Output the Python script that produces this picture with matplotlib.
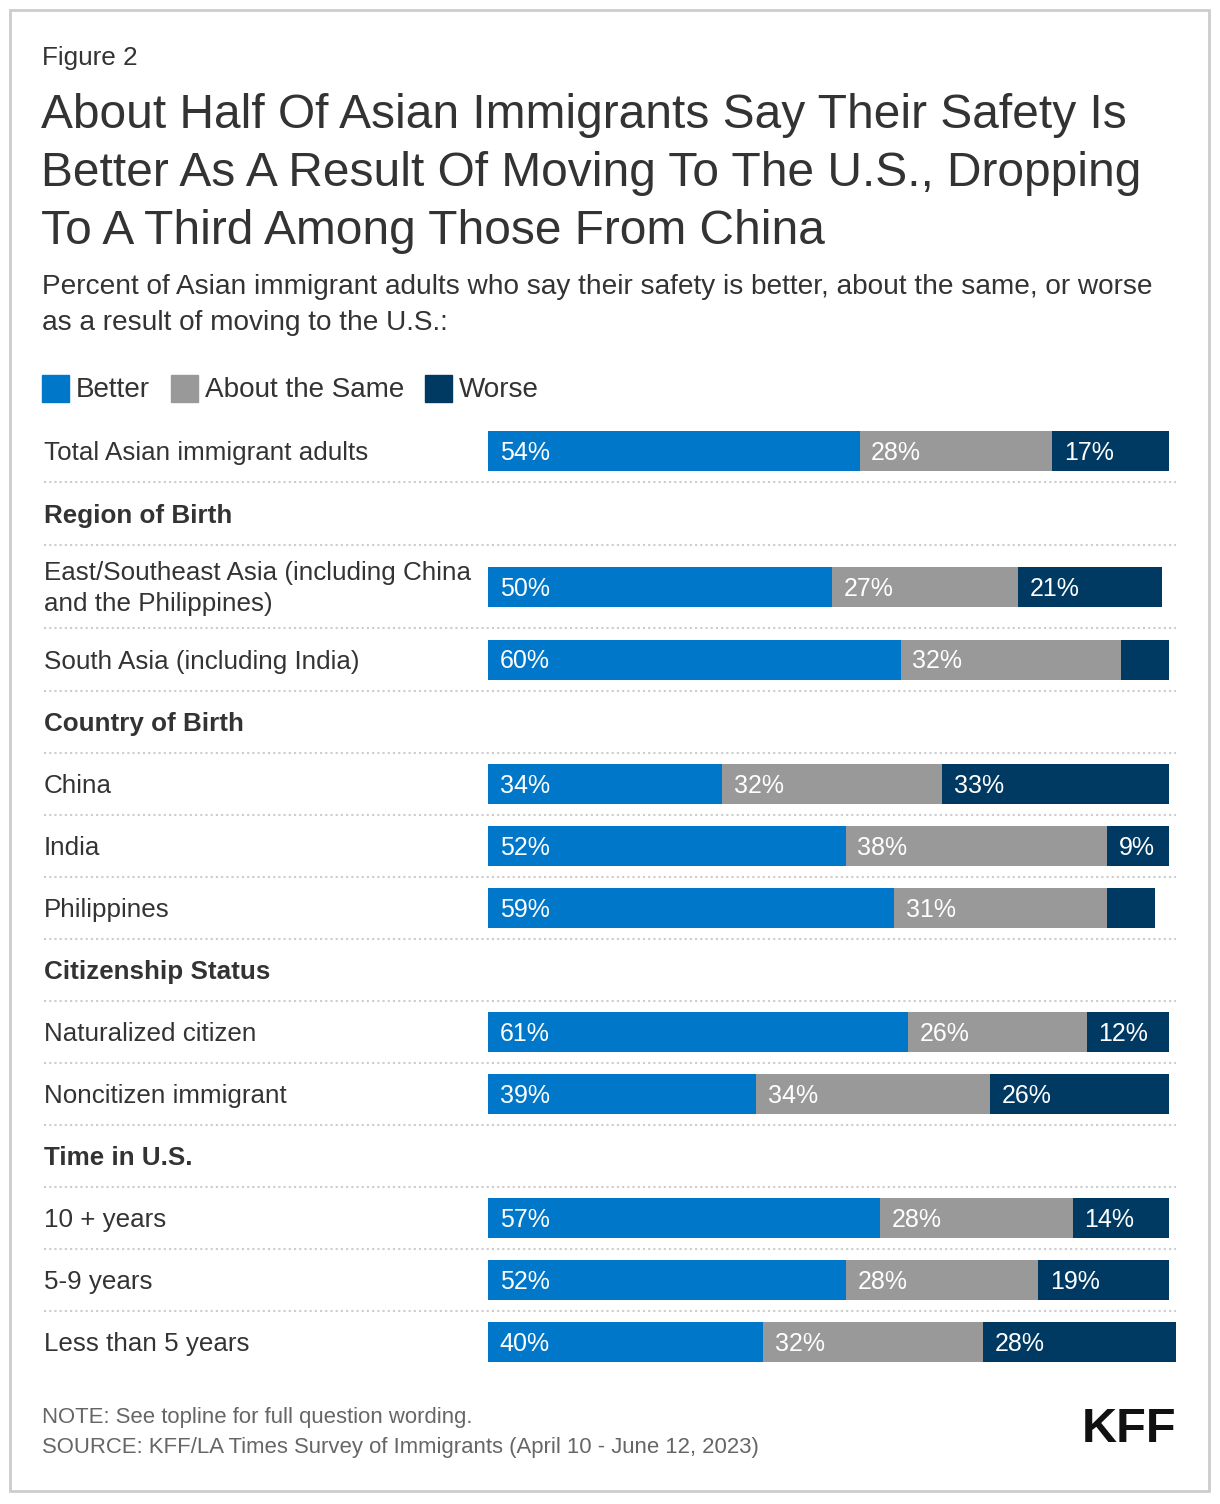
import matplotlib.pyplot as plt
from matplotlib.patches import Rectangle

plt.rcParams['font.family'] = ['Liberation Sans', 'DejaVu Sans']

# Data
categories = ["Total Asian immigrant adults", "Region of Birth",
              "East/Southeast Asia (including China\nand the Philippines)",
              "South Asia (including India)", "Country of Birth",
              "China", "India", "Philippines", "Citizenship Status",
              "Naturalized citizen", "Noncitizen immigrant", "Time in U.S.",
              "10 + years", "5-9 years", "Less than 5 years"]
is_header = [False, True, False, False, True, False, False, False, True,
             False, False, True, False, False, False]
better = [54, None, 50, 60, None, 34, 52, 59, None, 61, 39, None, 57, 52, 40]
same = [28, None, 27, 32, None, 32, 38, 31, None, 26, 34, None, 28, 28, 32]
worse = [17, None, 21, 7, None, 33, 9, 7, None, 12, 26, None, 14, 19, 28]

series = [("Better", better, "#0077c8"),
          ("About the Same", same, "#999999"),
          ("Worse", worse, "#003a63")]

# layout (pixels)
W, H = 1220, 1504
row_h = [62, 63, 83, 63, 62, 62, 62, 62, 62, 62, 62, 62, 62, 62, 62]
top = 420

fig = plt.figure(figsize=(W / 100, H / 100), dpi=100)
bg = fig.add_axes([0, 0, 1, 1])
bg.set_xlim(0, W)
bg.set_ylim(H, 0)
bg.axis('off')

ax = fig.add_axes([488 / W, 0, 688 / W, 1])
ax.set_xlim(0, 100)
ax.set_ylim(H, 0)
ax.axis('off')

# frame
bg.add_patch(Rectangle((10, 10), 1199, 1481, fill=False, ec='#cccccc', lw=2))

txt = '#333333'
bg.text(42, 58, "Figure 2", fontsize=18.8, color=txt, va='center')
title = ["About Half Of Asian Immigrants Say Their Safety Is",
         "Better As A Result Of Moving To The U.S., Dropping",
         "To A Third Among Those From China"]
for i, line in enumerate(title):
    bg.text(41, 115 + 58 * i, line, fontsize=34.5, color=txt, va='center')
bg.text(42, 287, "Percent of Asian immigrant adults who say their safety is better, about the same, or worse",
        fontsize=20.2, color=txt, va='center')
bg.text(42, 323, "as a result of moving to the U.S.:", fontsize=20.2, color=txt, va='center')

# legend
lx = 42
for name, _, col in series:
    bg.add_patch(Rectangle((lx, 375), 27, 27, color=col))
    t = bg.text(lx + 34, 390, name, fontsize=20.1, color=txt, va='center')
    fig.canvas.draw()
    bb = t.get_window_extent()
    lx = bb.x1 + 21

# rows
y = top
centers = []
for h in row_h:
    centers.append(y + h / 2)
    y += h
seps = [top + sum(row_h[:i + 1]) for i in range(len(row_h) - 1)]
for s in seps:
    bg.plot([44, 1176], [s, s], color='#cccccc', lw=1.5, ls=(0, (1, 1.5)))

for i, cat in enumerate(categories):
    c = centers[i]
    if is_header[i]:
        bg.text(44, c + 2, cat, fontsize=18.7, color=txt, va='center', fontweight='bold')
        continue
    bg.text(44, c + 2, cat, fontsize=18.7, color=txt, va='center', linespacing=1.33)
    left = 0
    for name, vals, col in series:
        v = vals[i]
        ax.barh(c, v, left=left, height=40, color=col)
        if v >= 8:
            ax.text(left + 1.7, c + 2, f"{v}%", fontsize=18, color='white', va='center')
        left += v

# footer
bg.text(42, 1418, "NOTE: See topline for full question wording.", fontsize=15.9,
        color='#666666', va='center')
bg.text(42, 1447, "SOURCE: KFF/LA Times Survey of Immigrants (April 10 - June 12, 2023)",
        fontsize=15.9, color='#666666', va='center')
bg.text(1176, 1430, "KFF", fontsize=35, color='#111111', va='center', ha='right',
        fontweight='bold', family=['Liberation Sans Narrow', 'Liberation Sans'])

fig.savefig('out.png', dpi=100)
